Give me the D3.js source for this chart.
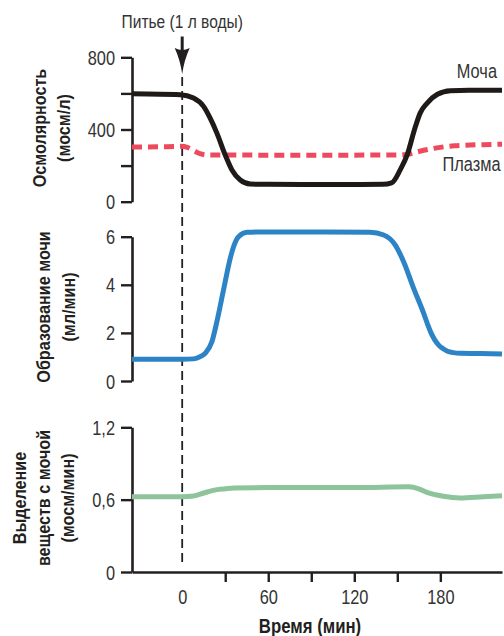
<!DOCTYPE html>
<html><head><meta charset="utf-8">
<script src="https://cdn.jsdelivr.net/npm/d3@7"></script>
<style>
body{margin:0;background:#fff;}
svg{display:block;}
text{font-family:'Liberation Sans',Arial,sans-serif;}
</style></head>
<body><svg id="c" width="504" height="636"></svg>
<script>
// time in minutes
const urineOsmT = [-35, -1.4, 7.9, 14.9, 19.5, 24.2, 30, 34.7, 40.5, 47.5, 60, 100, 140, 146, 152, 157, 162, 166, 171, 178, 187, 200, 223];
const urineOsmV = [598, 593, 574, 528, 463, 380, 259, 176, 120, 98, 96, 95, 96, 104, 176, 262, 400, 492, 548, 595, 615, 617, 617];
const plasmaOsmT = [-35, -10, -1, 4, 9.2, 13, 17.3, 60, 120, 150, 157, 165, 175, 190, 210, 223];
const plasmaOsmV = [303, 305, 307, 300, 278, 265, 259, 258, 258, 259, 262, 278, 295, 310, 316, 318];
const flowT = [-35, 0, 7.9, 12, 16, 20.7, 24.2, 28.8, 33.5, 35.8, 39.3, 45.1, 60, 100, 131, 140.5, 148.6, 154.4, 161.4, 168.4, 171, 173.5, 176, 179, 182, 185, 189, 194, 208, 223];
const flowV = [0.9, 0.9, 0.92, 1.0, 1.15, 1.63, 2.47, 3.78, 5.1, 5.58, 6.0, 6.18, 6.2, 6.2, 6.18, 6.07, 5.65, 4.96, 3.85, 2.81, 2.38, 2.0, 1.72, 1.48, 1.34, 1.24, 1.18, 1.15, 1.14, 1.12];
const solT = [-35, 0, 8, 15, 21.6, 30, 36, 60, 120, 158, 165, 170.7, 182, 194, 210, 223];
const solV = [0.625, 0.625, 0.63, 0.655, 0.677, 0.69, 0.697, 0.70, 0.70, 0.706, 0.69, 0.66, 0.628, 0.614, 0.625, 0.633];

const osmTicks = [0, 200, 400, 600, 800];
const osmLabels = ["0", "", "400", "", "800"];
const flowTicks = [0, 2, 4, 6];
const flowLabels = ["0", "2", "4", "6"];
const solTicks = [0, 0.6, 1.2];
const solLabels = ["0", "0,6", "1,2"];
const timeTicks = [0, 30, 60, 90, 120, 150, 180];
const timeLabels = ["0", "", "60", "", "120", "", "180"];

const SX = 0.84; // horizontal condensing of the typeface
const svg = d3.select("#c");
const ink = "#231f20";
const txt = "#333333";
const x = d3.scaleLinear().domain([-35, 223]).range([132, 502]);
const yTop = d3.scaleLinear().domain([0, 800]).range([201.7, 57.3]);
const yMid = d3.scaleLinear().domain([0, 6]).range([381, 236.7]);
const yBot = d3.scaleLinear().domain([0, 1.2]).range([572, 427.3]);

function yAxis(scale, ticks, labels) {
  const g = svg.append("g").attr("transform", "translate(132,0)")
    .call(d3.axisLeft(scale).tickValues(ticks).tickSize(11).tickSizeOuter(0).tickPadding(6)
      .tickFormat((d, i) => labels[i]));
  g.select(".domain").attr("stroke", ink).attr("stroke-width", 2.6);
  g.selectAll(".tick line").attr("stroke", ink).attr("stroke-width", 2.4);
  g.selectAll(".tick text").attr("fill", txt).attr("font-size", 19.5).attr("font-family", "'Liberation Sans',Arial,sans-serif")
    .attr("x", -17 / SX).attr("dy", "0.36em").attr("transform", `scale(${SX},1)`);
  return g;
}
yAxis(yTop, osmTicks, osmLabels);
yAxis(yMid, flowTicks, flowLabels);
yAxis(yBot, solTicks, solLabels);

const xg = svg.append("g").attr("transform", "translate(0,572)")
  .call(d3.axisBottom(x).tickValues(timeTicks).tickSize(10).tickSizeOuter(0).tickPadding(8)
    .tickFormat((d, i) => timeLabels[i]));
xg.select(".domain").attr("stroke", ink).attr("stroke-width", 2.6);
xg.selectAll(".tick line").attr("stroke", ink).attr("stroke-width", 2.4);
xg.selectAll(".tick text").attr("fill", txt).attr("font-size", 19.5).attr("font-family", "'Liberation Sans',Arial,sans-serif")
  .attr("transform", `scale(${SX},1)`);
xg.selectAll(".tick").filter(d => d === 0).select("line").remove();

// dashed vertical line at time 0
svg.append("line").attr("x1", x(0)).attr("x2", x(0)).attr("y1", 77).attr("y2", 566)
  .attr("stroke", ink).attr("stroke-width", 1.8).attr("stroke-dasharray", "9,5");

// arrow
const ax = x(0);
svg.append("line").attr("x1", ax).attr("x2", ax).attr("y1", 36.5).attr("y2", 54)
  .attr("stroke", ink).attr("stroke-width", 3);
svg.append("path").attr("d", `M${ax - 7.5},48 Q${ax},52 ${ax + 7.5},48 Q${ax + 2},60 ${ax},74 Q${ax - 2},60 ${ax - 7.5},48 Z`).attr("fill", ink);

function label(xp, yp, s, size, anchor, weight, fill) {
  return svg.append("text").attr("transform", `translate(${xp},${yp}) scale(${SX},1)`)
    .attr("text-anchor", anchor).attr("font-size", size).attr("font-weight", weight).attr("fill", fill).text(s);
}
label(x(0), 28.3, "Питье (1 л воды)", 18.5, "middle", "normal", txt);

function drawLine(T, V, scale, color, dash) {
  const pts = T.map((t, i) => [t, V[i]]);
  const line = d3.line().x(d => x(d[0])).y(d => scale(d[1])).curve(d3.curveMonotoneX);
  const p = svg.append("path").datum(pts).attr("d", line).attr("fill", "none")
    .attr("stroke", color).attr("stroke-width", 5);
  if (dash) p.attr("stroke-dasharray", dash);
  return p;
}
drawLine(plasmaOsmT, plasmaOsmV, yTop, "#ee4a5e", "10,6");
drawLine(urineOsmT, urineOsmV, yTop, "#1f1a17");
drawLine(flowT, flowV, yMid, "#2c84c6");
drawLine(solT, solV, yBot, "#8ec49b");

label(497, 78.3, "Моча", 19.5, "end", "normal", txt);
label(500.5, 170.7, "Плазма", 19.5, "end", "normal", txt);

function yTitle(lines, xs, cy) {
  lines.forEach((s, i) => {
    svg.append("text").attr("transform", `translate(${xs[i]},${cy}) rotate(-90) scale(${SX + 0.01},1)`)
      .attr("text-anchor", "middle")
      .attr("font-size", 19).attr("font-weight", "bold").attr("fill", ink).text(s);
  });
}
yTitle(["Осмолярность", "(мосм/л)"], [45.5, 69.5], 128);
yTitle(["Образование мочи", "(мл/мин)"], [50, 75], 307);
yTitle(["Выделение", "веществ с мочой", "(мосм/мин)"], [25.5, 49.5, 73.5], 498);

label(310, 633, "Время (мин)", 20, "middle", "bold", ink);
</script></body></html>
